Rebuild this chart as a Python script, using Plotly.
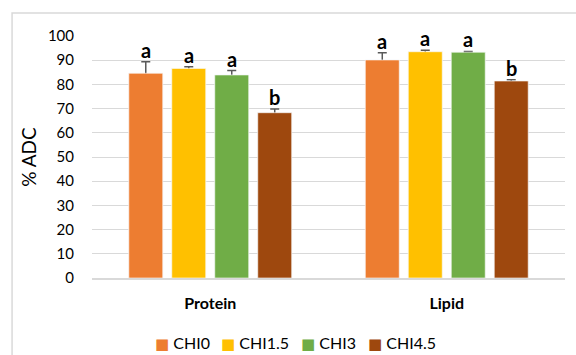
import plotly.graph_objects as go

# Apparent digestibility coefficients by nutrient and chitin level
nutrients = ["Protein", "Lipid"]
diets = ["CHI0", "CHI1.5", "CHI3", "CHI4.5"]
colors = ["#ED7D31", "#FFC000", "#70AD47", "#9E480E"]

adc_values = {
    "CHI0": [84.6, 90.1],
    "CHI1.5": [86.6, 93.5],
    "CHI3": [83.9, 93.3],
    "CHI4.5": [68.3, 81.4],
}
adc_errors = {
    "CHI0": [4.8, 3.0],
    "CHI1.5": [0.7, 0.6],
    "CHI3": [1.8, 0.3],
    "CHI4.5": [1.5, 0.5],
}
sig_letters = {
    "CHI0": ["a", "a"],
    "CHI1.5": ["a", "a"],
    "CHI3": ["a", "a"],
    "CHI4.5": ["b", "b"],
}

FONT = "Lato, 'Open Sans', sans-serif"
bargap = 0.273

fig = go.Figure()
for diet, col in zip(diets, colors):
    vals = adc_values[diet]
    errs = adc_errors[diet]
    # Error bars sit on a hidden copy drawn first, so the visible bar covers the lower arm
    fig.add_trace(go.Bar(
        name=diet, x=nutrients, y=vals, offsetgroup=diet,
        marker=dict(color="rgba(0,0,0,0)"),
        error_y=dict(type="data", array=errs, color="#595959",
                     thickness=1.5, width=4.5),
        showlegend=False, hoverinfo="skip",
    ))
    fig.add_trace(go.Bar(
        name=diet, x=nutrients, y=vals, offsetgroup=diet,
        marker=dict(color=col, line=dict(color="rgba(255,255,255,0.6)", width=1)),
        showlegend=False,
    ))

# Significance letters above each error bar
n = len(diets)
for i, diet in enumerate(diets):
    for j, nut in enumerate(nutrients):
        top = adc_values[diet][j] + adc_errors[diet][j]
        offset = (1 - bargap) * ((i + 0.5) / n - 0.5)
        fig.add_annotation(
            x=j + offset, y=top, xref="x", yref="y",
            text=f"<b>{sig_letters[diet][j]}</b>",
            showarrow=False, yanchor="bottom", yshift=-2,
            font=dict(family=FONT, size=20, color="#000000"),
        )

# Legend drawn as coloured squares with labels along the bottom
legend_x = [153, 219, 299, 366]
for diet, col, px in zip(diets, colors, legend_x):
    fig.add_annotation(
        x=(px - 92) / 473, y=(278 - 343) / 242, xref="paper", yref="paper",
        xanchor="left", yanchor="middle", showarrow=False,
        text=f'<span style="color:{col};font-family:DejaVu Sans;font-size:15px">■</span> {diet}',
        font=dict(family=FONT, size=16, color="#000000"),
    )

# Light chart-area border
fig.add_shape(type="rect", xref="paper", yref="paper",
              x0=-0.169, x1=1.05, y0=-0.4, y1=1.095,
              line=dict(color="#D9D9D9", width=1.5), fillcolor="rgba(0,0,0,0)",
              layer="below")

fig.update_layout(
    width=576, height=355,
    margin=dict(l=92, r=11, t=36, b=77),
    paper_bgcolor="white", plot_bgcolor="white",
    barmode="group", bargap=bargap, bargroupgap=0.21,
    font=dict(family=FONT, size=14, color="#000000"),
    showlegend=False,
    xaxis=dict(
        type="category",
        tickvals=nutrients,
        ticktext=[f"<b>{t}</b>" for t in nutrients],
        tickfont=dict(family=FONT, size=16, color="#000000"),
        showline=True, linecolor="#D9D9D9", linewidth=1.5,
        ticks="outside", ticklen=10, tickcolor="rgba(0,0,0,0)",
        showgrid=False,
    ),
    yaxis=dict(
        range=[0, 100], dtick=10,
        showgrid=True, gridcolor="#D9D9D9", gridwidth=1,
        zeroline=False, showline=False,
        ticks="outside", ticklen=14, tickcolor="rgba(0,0,0,0)",
        tickfont=dict(family=FONT, size=15, color="#000000"),
        title=dict(text="% ADC", font=dict(family=FONT, size=19, color="#000000"),
                   standoff=6),
    ),
)

fig.write_html("out.html")
